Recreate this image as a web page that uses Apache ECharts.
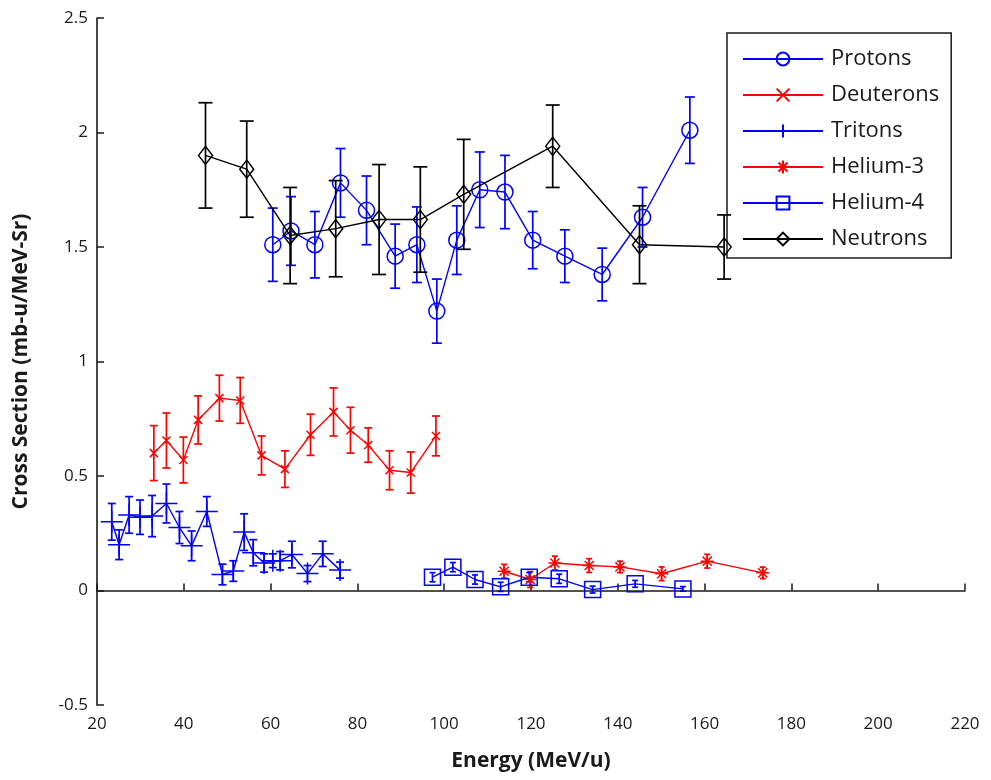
<!DOCTYPE html>
<html>
<head>
<meta charset="utf-8">
<script src="https://cdn.jsdelivr.net/npm/echarts@6/dist/echarts.min.js"></script>
<style>
  html, body { margin: 0; padding: 0; background: #fff; }
  #chart { width: 991px; height: 780px; }
</style>
</head>
<body>
<div id="chart"></div>
<script>
// Energy (MeV/u), cross section (mb-u/MeV-Sr) and its uncertainty for each particle species
const protonE   = [60.5, 64.7, 70.2, 76.1, 82.1, 88.7, 93.7, 98.3, 102.9, 108.2, 114.0, 120.4, 127.8, 136.4, 145.7, 156.6];
const protonXS  = [1.51, 1.57, 1.51, 1.78, 1.66, 1.46, 1.51, 1.22, 1.53, 1.75, 1.74, 1.53, 1.46, 1.38, 1.63, 2.01];
const protonErr = [0.16, 0.15, 0.145, 0.15, 0.15, 0.14, 0.165, 0.14, 0.15, 0.165, 0.16, 0.125, 0.115, 0.115, 0.13, 0.145];

const deuteronE   = [33.1, 36.0, 39.9, 43.3, 48.2, 53.0, 57.9, 63.3, 69.2, 74.5, 78.4, 82.5, 87.4, 92.3, 98.1];
const deuteronXS  = [0.60, 0.655, 0.57, 0.745, 0.84, 0.83, 0.59, 0.53, 0.68, 0.78, 0.70, 0.635, 0.525, 0.515, 0.675];
const deuteronErr = [0.12, 0.12, 0.10, 0.105, 0.10, 0.10, 0.085, 0.08, 0.09, 0.105, 0.10, 0.075, 0.085, 0.09, 0.087];

const tritonE   = [23.4, 25.1, 27.4, 29.9, 32.7, 36.0, 39.0, 41.8, 45.3, 48.9, 51.4, 53.9, 56.0, 58.5, 60.5, 62.2, 64.9, 68.5, 72.0, 76.0];
const tritonXS  = [0.30, 0.20, 0.33, 0.32, 0.325, 0.38, 0.275, 0.195, 0.345, 0.07, 0.085, 0.255, 0.165, 0.12, 0.13, 0.13, 0.157, 0.074, 0.16, 0.089];
const tritonErr = [0.08, 0.065, 0.08, 0.075, 0.09, 0.085, 0.07, 0.065, 0.065, 0.045, 0.045, 0.08, 0.057, 0.04, 0.03, 0.04, 0.058, 0.035, 0.055, 0.035];

const helium3E   = [113.8, 119.8, 125.5, 133.4, 140.5, 150.1, 160.6, 173.4];
const helium3XS  = [0.084, 0.048, 0.12, 0.109, 0.103, 0.073, 0.128, 0.077];
const helium3Err = [0.03, 0.035, 0.03, 0.03, 0.025, 0.03, 0.03, 0.025];

const helium4E   = [97.3, 102.0, 107.1, 113.0, 119.6, 126.5, 134.2, 144.0, 155.0];
const helium4XS  = [0.058, 0.102, 0.048, 0.016, 0.058, 0.051, 0.004, 0.029, 0.007];
const helium4Err = [0.02, 0.02, 0.02, 0.02, 0.02, 0.02, 0.015, 0.015, 0.01];

const neutronE   = [45.0, 54.5, 64.5, 75.0, 85.0, 94.5, 104.5, 125.0, 145.0, 164.5];
const neutronXS  = [1.90, 1.84, 1.55, 1.58, 1.62, 1.62, 1.73, 1.94, 1.51, 1.50];
const neutronErr = [0.23, 0.21, 0.21, 0.21, 0.24, 0.23, 0.24, 0.18, 0.17, 0.14];

const xTicks = { min: 20, max: 220, step: 20 };
const yTicks = { min: -0.5, max: 2.5, step: 0.5 };

const BLUE = '#0000ff', RED = '#ff0000', BLACK = '#000000';
const FONT = '"Open Sans", Lato, sans-serif';
const INK = '#1a1a1a';

// hollow / stroked marker outlines
const SYM_X    = 'path://M0,0L10,10M10,0L0,10';
const SYM_PLUS = 'path://M5,0L5,10M0,5L10,5';
const SYM_STAR = 'path://M5,0L5,10M0,5L10,5M1.5,1.5L8.5,8.5M8.5,1.5L1.5,8.5';

function pairs(xs, ys) { return xs.map((x, i) => [x, ys[i]]); }

function lineSeries(name, xs, ys, color, symbol, size, z) {
  return {
    type: 'line', name: name, data: pairs(xs, ys),
    symbol: symbol, symbolSize: size, showAllSymbol: true,
    lineStyle: { color: color, width: 1.4 },
    itemStyle: { color: 'rgba(0,0,0,0)', borderColor: color, borderWidth: 1.5 },
    emphasis: { disabled: true },
    z: z
  };
}

// vertical error bar with caps at y - err and y + err
function errorSeries(name, xs, ys, es, color, capHalf, z) {
  return {
    type: 'custom', name: name,
    data: xs.map((x, i) => [x, ys[i] - es[i], ys[i] + es[i]]),
    encode: { x: 0, y: [1, 2] },
    renderItem: function (params, api) {
      const lo = api.coord([api.value(0), api.value(1)]);
      const hi = api.coord([api.value(0), api.value(2)]);
      const st = { stroke: color, lineWidth: 1.7 };
      return {
        type: 'group',
        children: [
          { type: 'line', shape: { x1: lo[0], y1: lo[1], x2: hi[0], y2: hi[1] }, style: st },
          { type: 'line', shape: { x1: lo[0] - capHalf, y1: lo[1], x2: lo[0] + capHalf, y2: lo[1] }, style: st },
          { type: 'line', shape: { x1: hi[0] - capHalf, y1: hi[1], x2: hi[0] + capHalf, y2: hi[1] }, style: st }
        ]
      };
    },
    silent: true,
    z: z
  };
}

const chart = echarts.init(document.getElementById('chart'), null, { renderer: 'canvas' });

chart.setOption({
  animation: false,
  backgroundColor: '#ffffff',
  grid: { left: 97, right: 26, top: 18, bottom: 75, containLabel: false },
  xAxis: {
    type: 'value', min: xTicks.min, max: xTicks.max, interval: xTicks.step,
    name: 'Energy (MeV/u)', nameLocation: 'middle', nameGap: 46,
    nameTextStyle: { fontFamily: FONT, fontWeight: 'bold', fontSize: 21, color: INK },
    axisLine: { show: true, lineStyle: { color: INK, width: 1.6 } },
    axisTick: { show: true, inside: true, length: 7, lineStyle: { color: INK, width: 1.5 } },
    axisLabel: { fontFamily: FONT, fontSize: 17, color: INK, margin: 11 },
    splitLine: { show: false }
  },
  yAxis: {
    type: 'value', min: yTicks.min, max: yTicks.max, interval: yTicks.step,
    name: 'Cross Section (mb-u/MeV-Sr)', nameLocation: 'middle', nameGap: 65,
    nameTextStyle: { fontFamily: FONT, fontWeight: 'bold', fontSize: 21, color: INK },
    axisLine: { show: true, lineStyle: { color: INK, width: 1.6 } },
    axisTick: { show: true, inside: true, length: 7, lineStyle: { color: INK, width: 1.5 } },
    axisLabel: { fontFamily: FONT, fontSize: 17, color: INK, margin: 9 },
    splitLine: { show: false }
  },
  legend: {
    data: ['Protons', 'Deuterons', 'Tritons', 'Helium-3', 'Helium-4', 'Neutrons'],
    orient: 'vertical', left: 727, top: 33,
    backgroundColor: '#ffffff', borderColor: INK, borderWidth: 1.5, borderRadius: 0,
    padding: [15, 12, 8, 15],
    itemWidth: 80, itemHeight: 16, itemGap: 14,
    selectedMode: false,
    textStyle: { fontFamily: FONT, fontSize: 22, color: INK, padding: [0, 0, 0, 3] }
  },
  series: [
    errorSeries('Protons σ', protonE, protonXS, protonErr, BLUE, 5, 2),
    lineSeries('Protons', protonE, protonXS, BLUE, 'circle', 16, 3),
    errorSeries('Deuterons σ', deuteronE, deuteronXS, deuteronErr, RED, 4, 2),
    lineSeries('Deuterons', deuteronE, deuteronXS, RED, SYM_X, 8, 3),
    errorSeries('Tritons σ', tritonE, tritonXS, tritonErr, BLUE, 4, 2),
    lineSeries('Tritons', tritonE, tritonXS, BLUE, SYM_PLUS, 22, 3),
    errorSeries('Helium-3 σ', helium3E, helium3XS, helium3Err, RED, 3, 2),
    lineSeries('Helium-3', helium3E, helium3XS, RED, SYM_STAR, 13, 3),
    errorSeries('Helium-4 σ', helium4E, helium4XS, helium4Err, BLUE, 3, 2),
    lineSeries('Helium-4', helium4E, helium4XS, BLUE, 'rect', 16, 3),
    errorSeries('Neutrons σ', neutronE, neutronXS, neutronErr, BLACK, 7, 4),
    lineSeries('Neutrons', neutronE, neutronXS, BLACK, 'diamond', [14, 18], 5)
  ]
});
</script>
</body>
</html>
